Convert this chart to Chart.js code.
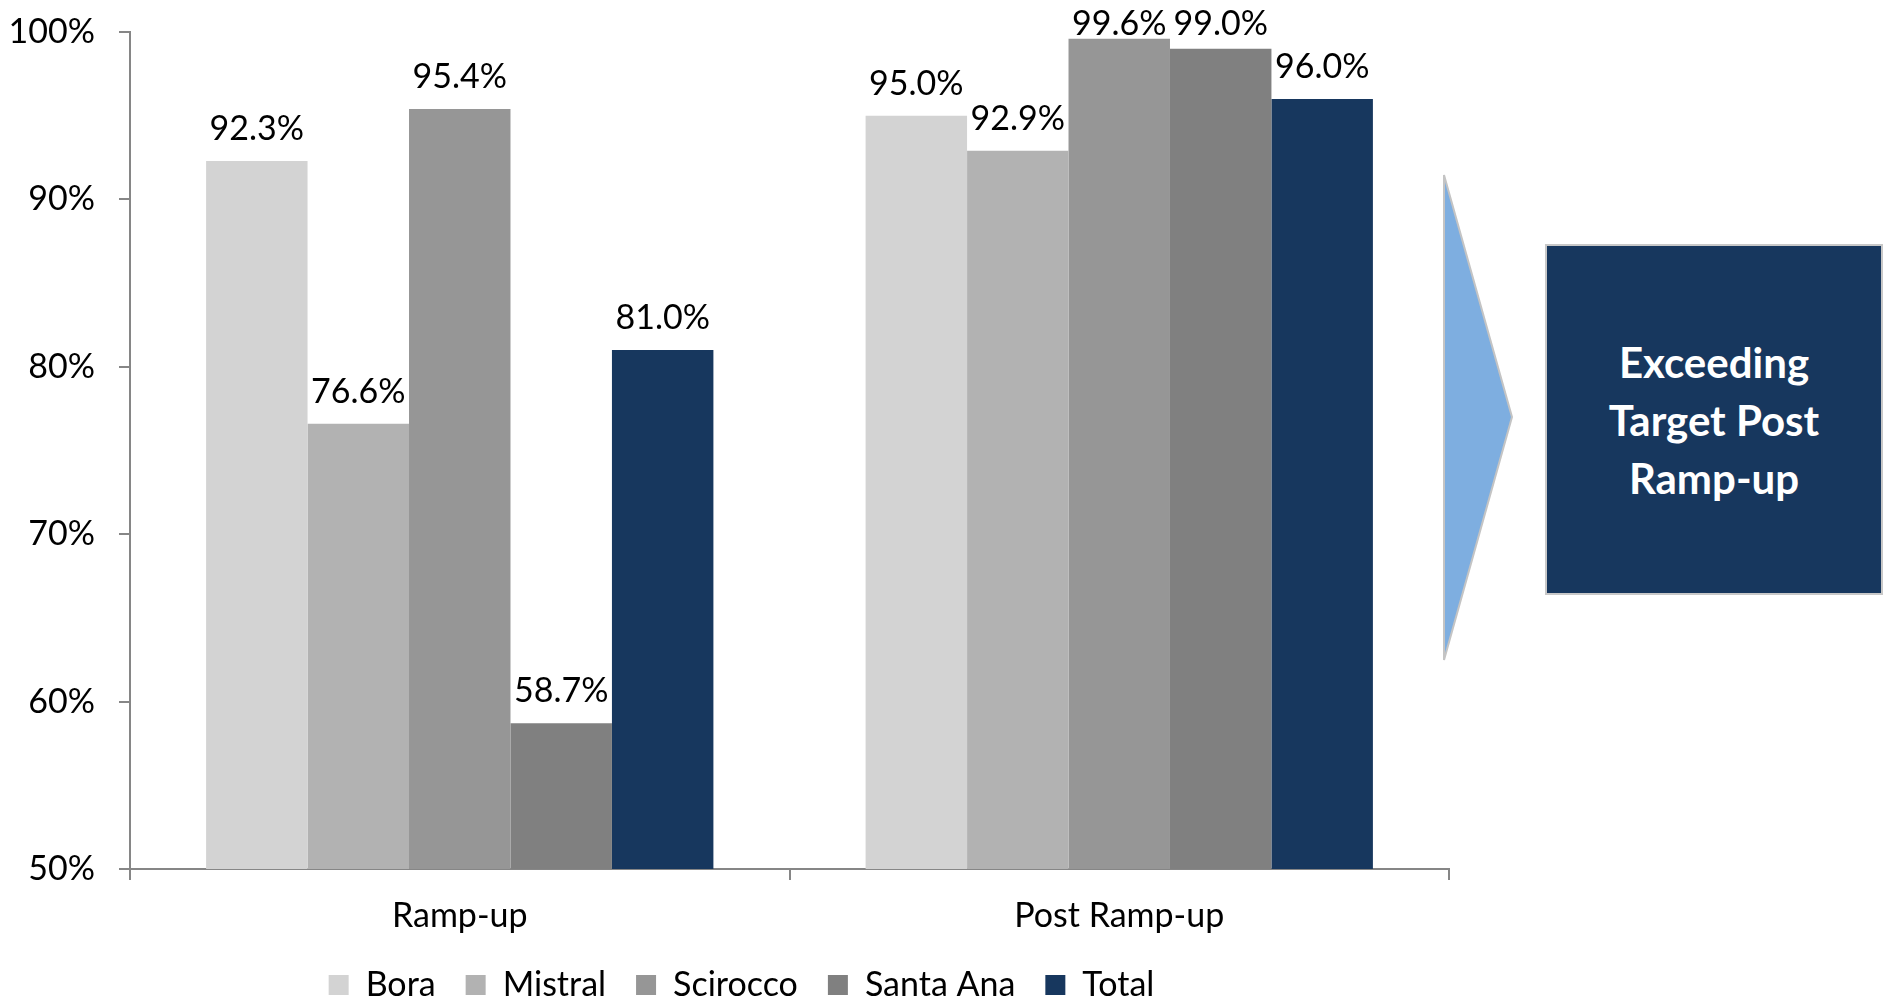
<!DOCTYPE html>
<html>
<head>
<meta charset="utf-8">
<script src="https://cdn.jsdelivr.net/npm/chart.js@4.4.1/dist/chart.umd.min.js"></script>
<style>
  body { margin: 0; background: #fff; }
  #wrap { position: relative; width: 1890px; height: 1001px; overflow: hidden; }
  #chartContainer { position: absolute; left: 0; top: 0; }
  #arrow { position: absolute; left: 0; top: 0; }
  #note {
    position: absolute; left: 1545px; top: 244px; width: 338px; height: 351px;
    background: #17375e; border: 2px solid #c8c8c8; box-sizing: border-box;
    color: #fff; font-family: Lato, sans-serif; font-weight: bold; font-size: 42px;
    line-height: 58px; text-align: center; display: flex; align-items: center; justify-content: center;
  }
</style>
</head>
<body>
<div id="wrap">
  <canvas id="chartContainer" width="1890" height="1001"></canvas>
  <svg id="arrow" width="1890" height="1001">
    <polygon points="1444,175 1512,417 1444,660" fill="#7eaee0" stroke="#c4c4c4" stroke-width="2"/>
  </svg>
  <div id="note">Exceeding<br>Target Post<br>Ramp-up</div>
</div>
<script>
"use strict";

// 1: data
let categories = ['Ramp-up', 'Post Ramp-up'];
let bora = [92.3, 95.0];
let mistral = [76.6, 92.9];
let scirocco = [95.4, 99.6];
let santaAna = [58.7, 99.0];
let total = [81.0, 96.0];
let yTicks = [50, 60, 70, 80, 90, 100];

// 2: value labels above the bars, legend nudged to the right
const valueLabels = {
  id: 'valueLabels',
  afterLayout(chart) {
    chart.legend.left += 34;
  },
  afterDatasetsDraw(chart) {
    let ctx = chart.ctx;
    ctx.save();
    ctx.font = '34px Lato, sans-serif';
    ctx.fillStyle = '#000';
    ctx.textAlign = 'center';
    ctx.textBaseline = 'alphabetic';
    chart.data.datasets.forEach((ds, i) => {
      chart.getDatasetMeta(i).data.forEach((bar, j) => {
        let y = Math.max(bar.y - 21, chart.chartArea.top + 3);
        ctx.fillText(ds.data[j].toFixed(1) + '%', bar.x, y);
      });
    });
    ctx.restore();
  }
};

// 3: create the chart
let chartContainer = document.getElementById('chartContainer');
let chart = new Chart(chartContainer, {
  type: 'bar',
  data: {
    labels: categories,
    datasets: [
      { label: 'Bora', data: bora, backgroundColor: '#d3d3d3' },
      { label: 'Mistral', data: mistral, backgroundColor: '#b2b2b2' },
      { label: 'Scirocco', data: scirocco, backgroundColor: '#969696' },
      { label: 'Santa Ana', data: santaAna, backgroundColor: '#808080' },
      { label: 'Total', data: total, backgroundColor: '#17375e' }
    ]
  },
  options: {
    responsive: false,
    animation: false,
    layout: { padding: { left: 0, right: 441, top: 32, bottom: -11 } },
    datasets: { bar: { categoryPercentage: 5 / 6.5, barPercentage: 1 } },
    plugins: {
      tooltip: { enabled: false },
      legend: {
        position: 'bottom',
        labels: {
          font: { family: 'Lato', size: 34 },
          color: '#000',
          boxWidth: 20,
          boxHeight: 20,
          padding: 30
        }
      }
    },
    scales: {
      x: {
        grid: { offset: true, drawOnChartArea: false, tickLength: 11, color: '#868686', lineWidth: 2 },
        border: { color: '#868686', width: 2 },
        ticks: { font: { family: 'Lato', size: 34 }, color: '#000', padding: 16 },
        afterFit(scale) { scale.height = 69; }
      },
      y: {
        min: 50,
        max: 100,
        afterBuildTicks(scale) { scale.ticks = yTicks.map(v => ({ value: v })); },
        grid: { drawOnChartArea: false, tickLength: 11, color: '#868686', lineWidth: 2 },
        border: { color: '#868686', width: 2 },
        ticks: {
          font: { family: 'Lato', size: 34 },
          color: '#000',
          padding: 24,
          callback: v => v + '%'
        },
        afterFit(scale) {
          scale.width = 130;
          scale.paddingTop = 0;
          scale.paddingBottom = 0;
        }
      }
    }
  },
  plugins: [valueLabels]
});
</script>
</body>
</html>
